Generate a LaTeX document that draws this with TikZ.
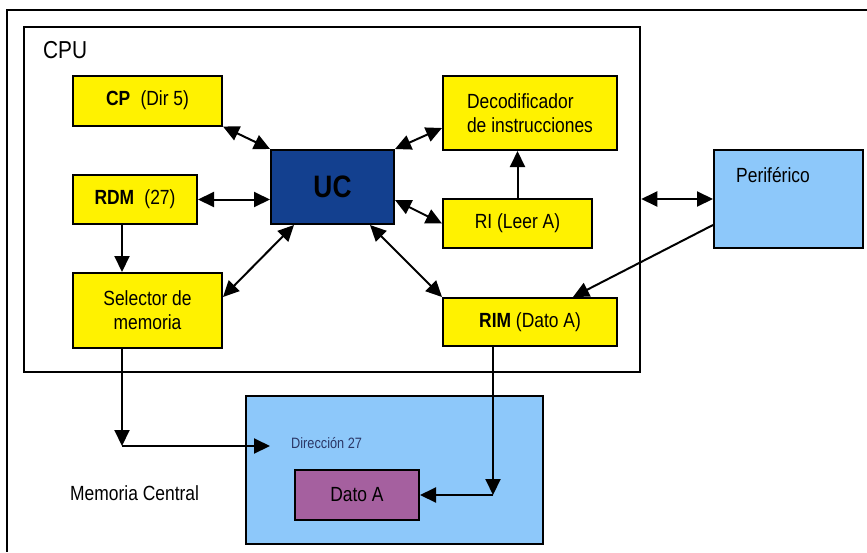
\documentclass[tikz,border=0pt]{standalone}
\usepackage{fontspec}
\setmainfont{Liberation Sans}[FakeStretch=0.85]
\usetikzlibrary{arrows.meta,calc}
\definecolor{ylw}{HTML}{FFF200}
\definecolor{ucblue}{HTML}{13408F}
\definecolor{ltblue}{HTML}{8DC8FA}
\definecolor{purp}{HTML}{A5609F}
\definecolor{dirtxt}{HTML}{2B3766}
\begin{document}
\begin{tikzpicture}[x=1pt,y=-1pt,
  bx/.style={draw=black,line width=2pt,inner sep=0pt,font=\fontsize{20.5}{24}\selectfont},
  ybox/.style={bx,fill=ylw},
  tip/.tip={Triangle[length=16pt,width=15pt]},
  link/.style={line width=2pt,-tip},
  dlink/.style={line width=2pt,tip-tip},
  lbl/.style={inner sep=0pt,anchor=west}]
\useasboundingbox (0,0) rectangle (867,552);
\fill[white] (0,0) rectangle (867,552);
\draw[line width=1.5pt] (867,10) -- (7,10) -- (7,552);
% CPU frame
\node[bx,minimum width=616pt,minimum height=345pt,line width=2.5pt] (cpu) at (332,199.5) {};
\node[lbl,font=\fontsize{24.5}{28}\selectfont] (cpulbl) at (43,50) {CPU};
% boxes
\node[ybox,minimum width=149pt,minimum height=50pt] (cp) at (147.5,100.5) {\textbf{CP}\enspace(Dir 5)};
\node[ybox,minimum width=124pt,minimum height=49pt] (rdm) at (135,199.5) {\textbf{RDM}\enspace(27)};
\node[bx,fill=ucblue,minimum width=123pt,minimum height=74pt,font=\fontsize{31}{34}\bfseries\selectfont] (uc) at (332.5,187) {UC};
\node[ybox,minimum width=174pt,minimum height=74pt,align=left] (deco) at (530,113) {Decodificador\\de instrucciones};
\node[ybox,minimum width=149pt,minimum height=49pt] (ri) at (517.5,223.5) {RI (Leer A)};
\node[ybox,minimum width=149pt,minimum height=75pt,align=center] (sel) at (147.5,310.5) {Selector de\\memoria};
\node[ybox,minimum width=174pt,minimum height=48pt] (rim) at (530,322) {\textbf{RIM} (Dato A)};
\node[bx,fill=ltblue,minimum width=149pt,minimum height=98pt] (per) at (788.5,199) {};
\node[lbl,font=\fontsize{20.5}{24}\selectfont] (perlbl) at (736,175) {Periférico};
\node[bx,fill=ltblue,minimum width=297pt,minimum height=148pt] (mem) at (394.5,470) {};
\node[lbl,font=\fontsize{15}{18}\selectfont,text=dirtxt] (dir) at (291,443) {Dirección 27};
\node[bx,fill=purp,minimum width=124pt,minimum height=50pt] (dato) at (357,495) {Dato A};
\node[lbl,font=\fontsize{20.5}{24}\selectfont] (memlbl) at (70,493) {Memoria Central};
% connectors
\draw[dlink] (cp.south east) -- (uc.north west);
\draw[dlink] (rdm.east) -- (rdm.east -| uc.west);
\draw[dlink] (uc.north east) -- ([yshift=-15pt]deco.west);
\draw[dlink] ([yshift=-13pt]uc.east) -- (ri.west);
\draw[dlink] ([xshift=-38.5pt]uc.south) -- ([yshift=13.5pt]sel.east);
\draw[dlink] ([xshift=37.5pt]uc.south) -- (rim.north west);
\draw[link] (ri.north) -- (ri.north |- deco.south);
\draw[link] ([xshift=-13pt]rdm.south) -- ([xshift=-13pt]rdm.south |- sel.north);
\coordinate (c1) at (122,446);
\coordinate (c2) at (270,446);
\draw[link] ([xshift=-25.5pt]sel.south) -- (c1);
\draw[link] (c1) -- (c2);
\coordinate (c3) at (493,495);
\draw[link] ([xshift=-37pt]rim.south) -- (c3);
\draw[link] (c3) -- (dato.east);
\draw[dlink] (per.west) -- (per.west -| cpu.east);
\draw[link] ([yshift=-26pt]per.west) -- ([xshift=43pt]rim.north);
\end{tikzpicture}
\end{document}
